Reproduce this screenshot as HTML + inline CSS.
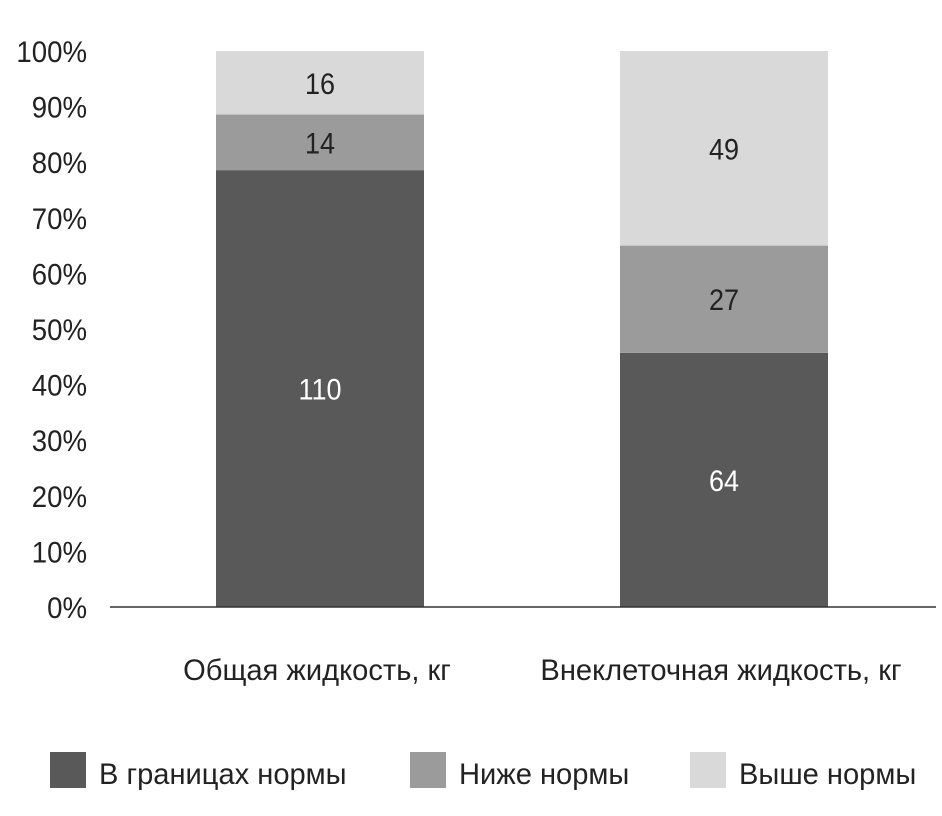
<!DOCTYPE html>
<html><head><meta charset="utf-8">
<style>
html,body{margin:0;padding:0;background:#fff;}
svg{display:block;}
text{font-family:"Liberation Sans Narrow","Liberation Sans",sans-serif;}
</style></head>
<body>
<svg id="chart" width="942" height="816" xmlns="http://www.w3.org/2000/svg">
<g id="yaxis"></g>
<g id="bars"></g>
<line x1="110" y1="607" x2="936" y2="607" stroke="#333" stroke-width="1.5"/>
<g id="xlabels"></g>
<g id="legend"></g>
</svg>
<script>
const categories = ["Общая жидкость, кг", "Внеклеточная жидкость, кг"];
const seriesNames = ["В границах нормы", "Ниже нормы", "Выше нормы"];
const seriesNormal = [110, 64];
const seriesBelow = [14, 27];
const seriesAbove = [16, 49];
const yTicks = [0, 10, 20, 30, 40, 50, 60, 70, 80, 90, 100];

const NS = "http://www.w3.org/2000/svg";
const colors = ["#595959", "#9b9b9b", "#d9d9d9"];
const labelColors = ["#fff", "#222", "#222"];
const y0 = 607, y100 = 51;
function yScale(p){ return y0 - (y0 - y100) * p / 100; }
const bandStart = 110, bandW = 404, barW = 208;
function xCenter(i){ return bandStart + bandW * i + bandW / 2 + 8; }
function mk(tag, attrs, parent){ const e = document.createElementNS(NS, tag); for (const k in attrs) e.setAttribute(k, attrs[k]); parent.appendChild(e); return e; }
function txt(parent, x, y, size, sx, anchor, fill, content){
  const t = mk("text", {x: 0, y: 0, transform: `translate(${x},${y}) scale(${sx},1)`, "text-anchor": anchor, "font-size": size, fill: fill}, parent);
  t.textContent = content;
  return t;
}

const yaxis = document.getElementById("yaxis");
yTicks.forEach(t => {
  const tx = txt(yaxis, 87, yScale(t) + 11, 30, 0.92, "end", "#222", t + "%");
  
  
});

const bars = document.getElementById("bars");
const series = [seriesNormal, seriesBelow, seriesAbove];
categories.forEach((c, i) => {
  const total = series.reduce((s, a) => s + a[i], 0);
  let cum = 0;
  series.forEach((arr, s) => {
    const v = arr[i];
    const pa = cum / total * 100, pb = (cum + v) / total * 100;
    cum += v;
    const ya = yScale(pa), yb = yScale(pb);
    const r = mk("rect", {x: xCenter(i) - barW / 2, y: yb, width: barW, height: ya - yb, fill: colors[s]}, bars);
    
    
    const t = txt(bars, xCenter(i), (ya + yb) / 2 + 11, 30, 0.9, "middle", labelColors[s], v);
    
    
  });
  const xl = txt(document.getElementById("xlabels"), xCenter(i) - 3, 680, 30, 0.97, "middle", "#222", c);
  
  
});

const legend = document.getElementById("legend");
const legX = [50, 410, 690];
seriesNames.forEach((n, s) => {
  const r = mk("rect", {x: legX[s], y: 752, width: 36, height: 36, fill: colors[s]}, legend);
  
  
  const t = txt(legend, legX[s] + 49, 784, 30, 0.97, "start", "#222", n);
  
  
});
</script>
</body></html>
